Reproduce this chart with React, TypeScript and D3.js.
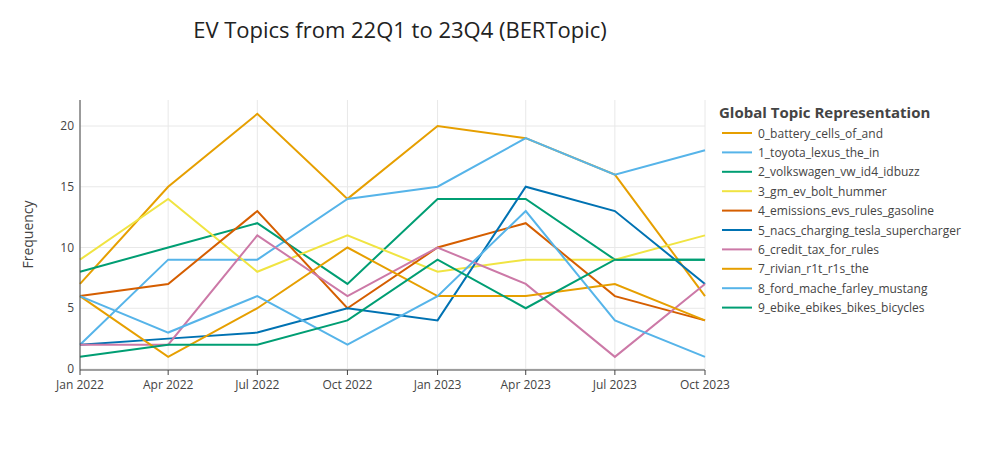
import React from 'react';
import * as d3 from 'd3';

const quarters = ['2022-01-01','2022-04-01','2022-07-01','2022-10-01','2023-01-01','2023-04-01','2023-07-01','2023-10-01'];
const topicNames = [
  '0_battery_cells_of_and',
  '1_toyota_lexus_the_in',
  '2_volkswagen_vw_id4_idbuzz',
  '3_gm_ev_bolt_hummer',
  '4_emissions_evs_rules_gasoline',
  '5_nacs_charging_tesla_supercharger',
  '6_credit_tax_for_rules',
  '7_rivian_r1t_r1s_the',
  '8_ford_mache_farley_mustang',
  '9_ebike_ebikes_bikes_bicycles',
];
const topicColors = ['#E69F00','#56B4E9','#009E73','#F0E442','#D55E00','#0072B2','#CC79A7','#E69F00','#56B4E9','#009E73'];
const topicValues = [
  [7, 15, 21, 14, 20, 19, 16, 6],
  [2, 9, 9, 14, 15, 19, 16, 18],
  [8, 10, 12, 7, 14, 14, 9, 9],
  [9, 14, 8, 11, 8, 9, 9, 11],
  [6, 7, 13, 5, 10, 12, 6, 4],
  [2, 2.5, 3, 5, 4, 15, 13, 7],
  [2, 2, 11, 6, 10, 7, 1, 7],
  [6, 1, 5, 10, 6, 6, 7, 4],
  [6, 3, 6, 2, 6, 13, 4, 1],
  [1, 2, 2, 4, 9, 5, 9, 9],
];
const yTicks = [0, 5, 10, 15, 20];

const font = '"Open Sans", Verdana, Arial, sans-serif';

export default function App() {
  const left = 80, right = 705, top = 100, bottom = 369;
  const dates = quarters.map(d => new Date(d + 'T00:00:00'));
  const x = d3.scaleTime().domain([dates[0], dates[dates.length - 1]]).range([left, right]);
  const y = d3.scaleLinear().domain([0, 20]).range([bottom, 126]);
  const fmt = d3.timeFormat('%b %Y');
  const line = d3.line<number>().x((_, i) => x(dates[i])).y(v => y(v));

  return (
    <svg width={1000} height={450} style={{ position: 'absolute', left: 0, top: 0, fontFamily: font }}>
      <rect width={1000} height={450} fill="#fff" />
      <text x={400} y={38} textAnchor="middle" fontSize={22} fill="#222">EV Topics from 22Q1 to 23Q4 (BERTopic)</text>
      {dates.map((d, i) => (
        <line key={'gx' + i} x1={x(d)} x2={x(d)} y1={top} y2={bottom} stroke="#e8e8e8" />
      ))}
      {yTicks.map(t => (
        <line key={'gy' + t} x1={left} x2={right} y1={y(t)} y2={y(t)} stroke="#e8e8e8" />
      ))}
      {topicValues.map((vals, i) => (
        <path key={'s' + i} d={line(vals) || ''} fill="none" stroke={topicColors[i]} strokeWidth={2} />
      ))}
      <line x1={left} x2={left} y1={top} y2={bottom + 1} stroke="#444" />
      <line x1={left} x2={right} y1={bottom + 1} y2={bottom + 1} stroke="#444" />
      {dates.map((d, i) => (
        <g key={'xt' + i}>
          <line x1={x(d)} x2={x(d)} y1={bottom + 1} y2={bottom + 6} stroke="#444" />
          <text x={x(d)} y={bottom + 20} textAnchor="middle" fontSize={12} fill="#444">{fmt(d)}</text>
        </g>
      ))}
      {yTicks.map(t => (
        <text key={'yt' + t} x={left - 6} y={y(t) + 4} textAnchor="end" fontSize={12} fill="#444">{t}</text>
      ))}
      <text transform={`translate(33,${(top + bottom) / 2}) rotate(-90)`} textAnchor="middle" fontSize={14} fill="#444">Frequency</text>
      <text x={719} y={118} fontSize={15} fontWeight="bold" fill="#444">Global Topic Representation</text>
      {topicNames.map((n, i) => (
        <g key={'lg' + i} transform={`translate(722,${133 + i * 19.4})`}>
          <line x1={0} x2={30} y1={0} y2={0} stroke={topicColors[i]} strokeWidth={2} />
          <text x={36} y={4.5} fontSize={12} fill="#444">{n}</text>
        </g>
      ))}
    </svg>
  );
}
